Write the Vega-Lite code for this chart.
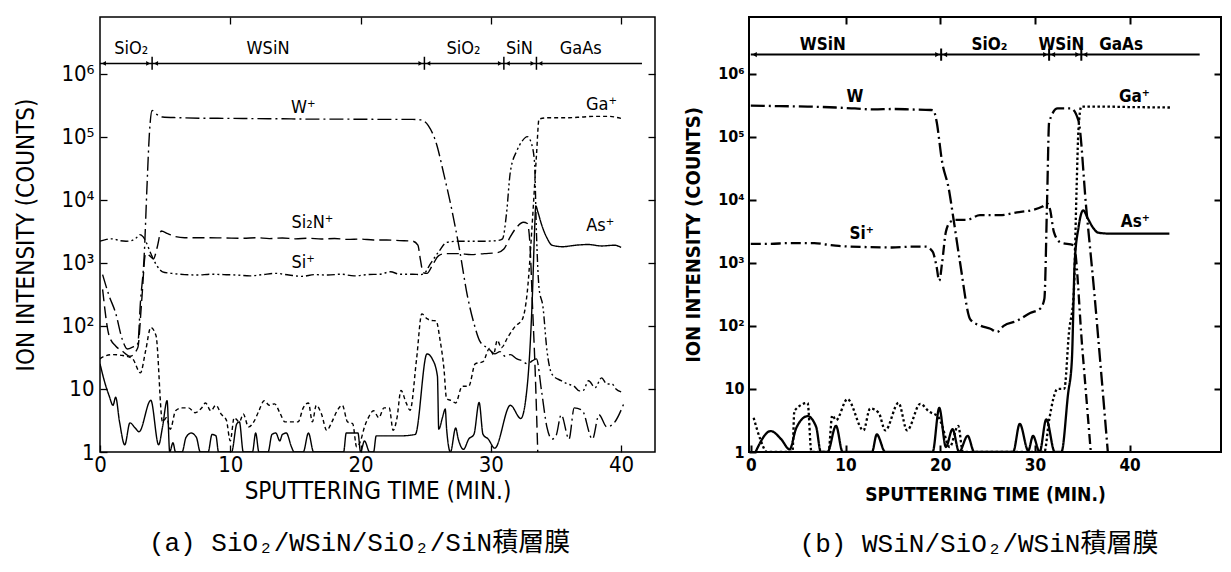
{
  "$schema": "https://vega.github.io/schema/vega-lite/v6.json",
  "background": "white",
  "padding": {"left": 14, "top": 15, "right": 0, "bottom": 8},
  "spacing": 25,
  "config": {
    "view": {"stroke": "black", "strokeWidth": 1.5},
    "font": "Liberation Sans Narrow, DejaVu Sans Condensed, sans-serif",
    "axis": {"grid": false, "domain": false, "tickColor": "black", "labelColor": "black", "titleColor": "black", "tickWidth": 1.3}
  },
  "datasets": {
    "profileA": [
      {"ion": "W", "t": 0.2, "v": 650}, {"ion": "W", "t": 0.7, "v": 300}, {"ion": "W", "t": 1.2, "v": 160}, {"ion": "W", "t": 1.7, "v": 62}, {"ion": "W", "t": 2.1, "v": 43}, {"ion": "W", "t": 2.5, "v": 46}, {"ion": "W", "t": 2.9, "v": 52}, {"ion": "W", "t": 3.1, "v": 230}, {"ion": "W", "t": 3.4, "v": 1400}, {"ion": "W", "t": 3.6, "v": 15000}, {"ion": "W", "t": 3.8, "v": 120000}, {"ion": "W", "t": 4.0, "v": 260000}, {"ion": "W", "t": 4.3, "v": 230000}, {"ion": "W", "t": 4.8, "v": 205000}, {"ion": "W", "t": 6, "v": 200000}, {"ion": "W", "t": 8, "v": 196000}, {"ion": "W", "t": 10, "v": 195000}, {"ion": "W", "t": 12, "v": 193000}, {"ion": "W", "t": 14, "v": 192000}, {"ion": "W", "t": 16, "v": 190000}, {"ion": "W", "t": 18, "v": 190000}, {"ion": "W", "t": 20, "v": 189000}, {"ion": "W", "t": 22, "v": 188000}, {"ion": "W", "t": 24, "v": 188000}, {"ion": "W", "t": 24.6, "v": 185000}, {"ion": "W", "t": 25.2, "v": 150000}, {"ion": "W", "t": 25.8, "v": 80000}, {"ion": "W", "t": 26.4, "v": 25000}, {"ion": "W", "t": 27.0, "v": 7000}, {"ion": "W", "t": 27.6, "v": 1600}, {"ion": "W", "t": 28.2, "v": 300}, {"ion": "W", "t": 28.7, "v": 110}, {"ion": "W", "t": 29.2, "v": 55}, {"ion": "W", "t": 29.8, "v": 44}, {"ion": "W", "t": 30.3, "v": 36}, {"ion": "W", "t": 30.7, "v": 39}, {"ion": "W", "t": 31.1, "v": 33}, {"ion": "W", "t": 31.5, "v": 35}, {"ion": "W", "t": 32.0, "v": 30}, {"ion": "W", "t": 32.4, "v": 28}, {"ion": "W", "t": 32.8, "v": 25}, {"ion": "W", "t": 33.2, "v": 28}, {"ion": "W", "t": 33.5, "v": 30}, {"ion": "W", "t": 33.9, "v": 9}, {"ion": "W", "t": 34.3, "v": 2.5}, {"ion": "W", "t": 34.7, "v": 1.6}, {"ion": "W", "t": 35.0, "v": 1.8}, {"ion": "W", "t": 35.4, "v": 3.9}, {"ion": "W", "t": 36.0, "v": 1.6}, {"ion": "W", "t": 36.4, "v": 5}, {"ion": "W", "t": 37.0, "v": 4.6}, {"ion": "W", "t": 37.8, "v": 1.6}, {"ion": "W", "t": 38.3, "v": 3.9}, {"ion": "W", "t": 38.9, "v": 2.5}, {"ion": "W", "t": 39.4, "v": 2.8}, {"ion": "W", "t": 40.2, "v": 5.8},

      {"ion": "Si2N", "t": 0.2, "v": 380}, {"ion": "Si2N", "t": 0.7, "v": 70}, {"ion": "Si2N", "t": 1.2, "v": 48}, {"ion": "Si2N", "t": 1.7, "v": 40}, {"ion": "Si2N", "t": 2.3, "v": 33}, {"ion": "Si2N", "t": 2.9, "v": 45}, {"ion": "Si2N", "t": 3.2, "v": 250}, {"ion": "Si2N", "t": 3.5, "v": 1400}, {"ion": "Si2N", "t": 3.8, "v": 1300}, {"ion": "Si2N", "t": 4.1, "v": 1150}, {"ion": "Si2N", "t": 4.4, "v": 1800}, {"ion": "Si2N", "t": 4.7, "v": 3200}, {"ion": "Si2N", "t": 5.2, "v": 2900}, {"ion": "Si2N", "t": 5.8, "v": 2600}, {"ion": "Si2N", "t": 6.5, "v": 2500}, {"ion": "Si2N", "t": 8, "v": 2500}, {"ion": "Si2N", "t": 9.5, "v": 2480}, {"ion": "Si2N", "t": 11, "v": 2450}, {"ion": "Si2N", "t": 12, "v": 2500}, {"ion": "Si2N", "t": 13, "v": 2420}, {"ion": "Si2N", "t": 14, "v": 2480}, {"ion": "Si2N", "t": 15, "v": 2400}, {"ion": "Si2N", "t": 16, "v": 2450}, {"ion": "Si2N", "t": 17, "v": 2380}, {"ion": "Si2N", "t": 18, "v": 2430}, {"ion": "Si2N", "t": 19, "v": 2350}, {"ion": "Si2N", "t": 20, "v": 2380}, {"ion": "Si2N", "t": 21, "v": 2300}, {"ion": "Si2N", "t": 22, "v": 2300}, {"ion": "Si2N", "t": 23, "v": 2250}, {"ion": "Si2N", "t": 24, "v": 2200}, {"ion": "Si2N", "t": 24.4, "v": 1900}, {"ion": "Si2N", "t": 24.6, "v": 1100}, {"ion": "Si2N", "t": 24.8, "v": 700}, {"ion": "Si2N", "t": 25.1, "v": 680}, {"ion": "Si2N", "t": 25.5, "v": 900}, {"ion": "Si2N", "t": 26.0, "v": 1300}, {"ion": "Si2N", "t": 26.5, "v": 1400}, {"ion": "Si2N", "t": 27.5, "v": 1400}, {"ion": "Si2N", "t": 28.5, "v": 1350}, {"ion": "Si2N", "t": 29.5, "v": 1400}, {"ion": "Si2N", "t": 30.5, "v": 1450}, {"ion": "Si2N", "t": 31.0, "v": 1650}, {"ion": "Si2N", "t": 31.5, "v": 2600}, {"ion": "Si2N", "t": 32.0, "v": 3700}, {"ion": "Si2N", "t": 32.5, "v": 4400}, {"ion": "Si2N", "t": 32.8, "v": 4200}, {"ion": "Si2N", "t": 33.0, "v": 2000}, {"ion": "Si2N", "t": 33.2, "v": 200}, {"ion": "Si2N", "t": 33.4, "v": 20}, {"ion": "Si2N", "t": 33.6, "v": 1},

      {"ion": "Si", "t": 0, "v": 2200}, {"ion": "Si", "t": 0.5, "v": 2350}, {"ion": "Si", "t": 1.0, "v": 2400}, {"ion": "Si", "t": 1.5, "v": 2250}, {"ion": "Si", "t": 2.0, "v": 2200}, {"ion": "Si", "t": 2.4, "v": 2250}, {"ion": "Si", "t": 2.8, "v": 2500}, {"ion": "Si", "t": 3.05, "v": 2800}, {"ion": "Si", "t": 3.3, "v": 2600}, {"ion": "Si", "t": 3.6, "v": 2000}, {"ion": "Si", "t": 3.9, "v": 1400}, {"ion": "Si", "t": 4.3, "v": 950}, {"ion": "Si", "t": 4.8, "v": 720}, {"ion": "Si", "t": 5.5, "v": 680}, {"ion": "Si", "t": 6.5, "v": 650}, {"ion": "Si", "t": 7.5, "v": 640}, {"ion": "Si", "t": 8.5, "v": 660}, {"ion": "Si", "t": 9.5, "v": 650}, {"ion": "Si", "t": 10.5, "v": 640}, {"ion": "Si", "t": 11.5, "v": 620}, {"ion": "Si", "t": 12.5, "v": 650}, {"ion": "Si", "t": 13.5, "v": 680}, {"ion": "Si", "t": 14.5, "v": 640}, {"ion": "Si", "t": 15.5, "v": 610}, {"ion": "Si", "t": 16.5, "v": 650}, {"ion": "Si", "t": 17.5, "v": 640}, {"ion": "Si", "t": 18.5, "v": 660}, {"ion": "Si", "t": 19.5, "v": 620}, {"ion": "Si", "t": 20.5, "v": 650}, {"ion": "Si", "t": 21.5, "v": 660}, {"ion": "Si", "t": 22.3, "v": 720}, {"ion": "Si", "t": 23, "v": 660}, {"ion": "Si", "t": 24.0, "v": 660}, {"ion": "Si", "t": 24.6, "v": 650}, {"ion": "Si", "t": 24.9, "v": 680}, {"ion": "Si", "t": 25.3, "v": 920}, {"ion": "Si", "t": 26.0, "v": 1500}, {"ion": "Si", "t": 26.6, "v": 2100}, {"ion": "Si", "t": 27.5, "v": 2200}, {"ion": "Si", "t": 28.5, "v": 2200}, {"ion": "Si", "t": 29.5, "v": 2200}, {"ion": "Si", "t": 30.5, "v": 2250}, {"ion": "Si", "t": 30.9, "v": 2400}, {"ion": "Si", "t": 31.2, "v": 6000}, {"ion": "Si", "t": 31.5, "v": 28000}, {"ion": "Si", "t": 32.0, "v": 60000}, {"ion": "Si", "t": 32.4, "v": 85000}, {"ion": "Si", "t": 32.8, "v": 100000}, {"ion": "Si", "t": 33.1, "v": 80000}, {"ion": "Si", "t": 33.35, "v": 40000}, {"ion": "Si", "t": 33.5, "v": 3000}, {"ion": "Si", "t": 33.7, "v": 400}, {"ion": "Si", "t": 34.0, "v": 200}, {"ion": "Si", "t": 34.3, "v": 42}, {"ion": "Si", "t": 34.7, "v": 17}, {"ion": "Si", "t": 35.4, "v": 13.5}, {"ion": "Si", "t": 35.9, "v": 12}, {"ion": "Si", "t": 36.4, "v": 11}, {"ion": "Si", "t": 36.8, "v": 9.3}, {"ion": "Si", "t": 37.1, "v": 9.5}, {"ion": "Si", "t": 37.5, "v": 13.5}, {"ion": "Si", "t": 38.0, "v": 10.5}, {"ion": "Si", "t": 38.5, "v": 15}, {"ion": "Si", "t": 38.9, "v": 12}, {"ion": "Si", "t": 39.3, "v": 12}, {"ion": "Si", "t": 39.6, "v": 10}, {"ion": "Si", "t": 40.0, "v": 9},

      {"ion": "Ga", "t": 0.0, "v": 30}, {"ion": "Ga", "t": 0.2, "v": 32}, {"ion": "Ga", "t": 1.0, "v": 35}, {"ion": "Ga", "t": 1.7, "v": 34}, {"ion": "Ga", "t": 2.5, "v": 30}, {"ion": "Ga", "t": 3.1, "v": 18}, {"ion": "Ga", "t": 3.5, "v": 40}, {"ion": "Ga", "t": 3.9, "v": 94}, {"ion": "Ga", "t": 4.3, "v": 70}, {"ion": "Ga", "t": 4.8, "v": 3}, {"ion": "Ga", "t": 5.1, "v": 3.5}, {"ion": "Ga", "t": 5.4, "v": 2.3}, {"ion": "Ga", "t": 5.8, "v": 4.5}, {"ion": "Ga", "t": 6.3, "v": 5}, {"ion": "Ga", "t": 6.8, "v": 5}, {"ion": "Ga", "t": 7.3, "v": 4.2}, {"ion": "Ga", "t": 7.8, "v": 5}, {"ion": "Ga", "t": 8.1, "v": 6}, {"ion": "Ga", "t": 8.5, "v": 4.5}, {"ion": "Ga", "t": 8.9, "v": 5.5}, {"ion": "Ga", "t": 9.3, "v": 4}, {"ion": "Ga", "t": 9.7, "v": 3.2}, {"ion": "Ga", "t": 10.0, "v": 1.5}, {"ion": "Ga", "t": 10.3, "v": 3.5}, {"ion": "Ga", "t": 10.7, "v": 3}, {"ion": "Ga", "t": 11.0, "v": 4}, {"ion": "Ga", "t": 11.4, "v": 2.5}, {"ion": "Ga", "t": 11.8, "v": 3}, {"ion": "Ga", "t": 12.2, "v": 4.5}, {"ion": "Ga", "t": 12.6, "v": 6.5}, {"ion": "Ga", "t": 13.0, "v": 5.5}, {"ion": "Ga", "t": 13.4, "v": 5.8}, {"ion": "Ga", "t": 13.8, "v": 4.2}, {"ion": "Ga", "t": 14.2, "v": 3}, {"ion": "Ga", "t": 14.8, "v": 3}, {"ion": "Ga", "t": 15.2, "v": 3}, {"ion": "Ga", "t": 15.6, "v": 5}, {"ion": "Ga", "t": 16.0, "v": 6}, {"ion": "Ga", "t": 16.3, "v": 3}, {"ion": "Ga", "t": 16.6, "v": 5.5}, {"ion": "Ga", "t": 17.0, "v": 4}, {"ion": "Ga", "t": 17.4, "v": 2.2}, {"ion": "Ga", "t": 17.8, "v": 3}, {"ion": "Ga", "t": 18.2, "v": 4.5}, {"ion": "Ga", "t": 18.6, "v": 5.5}, {"ion": "Ga", "t": 19.0, "v": 3}, {"ion": "Ga", "t": 19.4, "v": 2.8}, {"ion": "Ga", "t": 19.7, "v": 1.2}, {"ion": "Ga", "t": 20.0, "v": 1.5}, {"ion": "Ga", "t": 20.3, "v": 2.5}, {"ion": "Ga", "t": 20.6, "v": 3.5}, {"ion": "Ga", "t": 21.0, "v": 4.5}, {"ion": "Ga", "t": 21.4, "v": 3.5}, {"ion": "Ga", "t": 21.8, "v": 5}, {"ion": "Ga", "t": 22.2, "v": 5}, {"ion": "Ga", "t": 22.5, "v": 2.2}, {"ion": "Ga", "t": 22.8, "v": 3.5}, {"ion": "Ga", "t": 23.1, "v": 9.5}, {"ion": "Ga", "t": 23.5, "v": 6}, {"ion": "Ga", "t": 23.8, "v": 4.6}, {"ion": "Ga", "t": 24.3, "v": 30}, {"ion": "Ga", "t": 24.7, "v": 155}, {"ion": "Ga", "t": 25.1, "v": 130}, {"ion": "Ga", "t": 25.4, "v": 122}, {"ion": "Ga", "t": 25.8, "v": 120}, {"ion": "Ga", "t": 26.1, "v": 60}, {"ion": "Ga", "t": 26.4, "v": 21}, {"ion": "Ga", "t": 26.6, "v": 7}, {"ion": "Ga", "t": 27.0, "v": 6.5}, {"ion": "Ga", "t": 27.3, "v": 6}, {"ion": "Ga", "t": 27.8, "v": 11}, {"ion": "Ga", "t": 28.3, "v": 11}, {"ion": "Ga", "t": 28.8, "v": 25}, {"ion": "Ga", "t": 29.4, "v": 27}, {"ion": "Ga", "t": 29.9, "v": 44}, {"ion": "Ga", "t": 30.2, "v": 35}, {"ion": "Ga", "t": 30.5, "v": 59}, {"ion": "Ga", "t": 30.8, "v": 45}, {"ion": "Ga", "t": 31.3, "v": 66}, {"ion": "Ga", "t": 31.9, "v": 100}, {"ion": "Ga", "t": 32.4, "v": 125}, {"ion": "Ga", "t": 32.8, "v": 350}, {"ion": "Ga", "t": 33.2, "v": 5000}, {"ion": "Ga", "t": 33.5, "v": 50000}, {"ion": "Ga", "t": 33.7, "v": 190000}, {"ion": "Ga", "t": 34.5, "v": 200000}, {"ion": "Ga", "t": 36, "v": 200000}, {"ion": "Ga", "t": 37, "v": 205000}, {"ion": "Ga", "t": 38, "v": 210000}, {"ion": "Ga", "t": 39, "v": 210000}, {"ion": "Ga", "t": 40, "v": 195000},

      {"ion": "As", "t": 0, "v": 25}, {"ion": "As", "t": 0.4, "v": 12}, {"ion": "As", "t": 0.7, "v": 7.8}, {"ion": "As", "t": 1.0, "v": 5.5}, {"ion": "As", "t": 1.2, "v": 7.4}, {"ion": "As", "t": 1.5, "v": 3}, {"ion": "As", "t": 1.9, "v": 1.3}, {"ion": "As", "t": 2.3, "v": 2.9}, {"ion": "As", "t": 2.7, "v": 2.4}, {"ion": "As", "t": 3.0, "v": 2.1}, {"ion": "As", "t": 3.9, "v": 6.6}, {"ion": "As", "t": 4.5, "v": 1.3}, {"ion": "As", "t": 4.8, "v": 2.5}, {"ion": "As", "t": 5.15, "v": 6.5}, {"ion": "As", "t": 5.35, "v": 1.0}, {"ion": "As", "t": 5.6, "v": 1.4}, {"ion": "As", "t": 5.8, "v": 1}, {"ion": "As", "t": 6.3, "v": 1}, {"ion": "As", "t": 6.6, "v": 1.7}, {"ion": "As", "t": 7.0, "v": 2}, {"ion": "As", "t": 7.4, "v": 1.7}, {"ion": "As", "t": 7.7, "v": 1}, {"ion": "As", "t": 8.3, "v": 1}, {"ion": "As", "t": 8.6, "v": 1.9}, {"ion": "As", "t": 8.9, "v": 1.8}, {"ion": "As", "t": 9.1, "v": 1}, {"ion": "As", "t": 10.1, "v": 1}, {"ion": "As", "t": 10.5, "v": 2.8}, {"ion": "As", "t": 10.7, "v": 3}, {"ion": "As", "t": 11.0, "v": 1}, {"ion": "As", "t": 11.7, "v": 1}, {"ion": "As", "t": 11.95, "v": 2}, {"ion": "As", "t": 12.2, "v": 1}, {"ion": "As", "t": 12.9, "v": 1}, {"ion": "As", "t": 13.2, "v": 1.9}, {"ion": "As", "t": 13.5, "v": 2}, {"ion": "As", "t": 13.8, "v": 1.5}, {"ion": "As", "t": 14.0, "v": 1.9}, {"ion": "As", "t": 14.3, "v": 2}, {"ion": "As", "t": 14.7, "v": 1.2}, {"ion": "As", "t": 14.9, "v": 1}, {"ion": "As", "t": 15.6, "v": 1}, {"ion": "As", "t": 16.0, "v": 2}, {"ion": "As", "t": 16.4, "v": 1}, {"ion": "As", "t": 18.7, "v": 1}, {"ion": "As", "t": 18.9, "v": 2}, {"ion": "As", "t": 19.8, "v": 2}, {"ion": "As", "t": 20.0, "v": 1}, {"ion": "As", "t": 20.3, "v": 1.5}, {"ion": "As", "t": 20.7, "v": 1}, {"ion": "As", "t": 21.0, "v": 1}, {"ion": "As", "t": 21.2, "v": 1.8}, {"ion": "As", "t": 22, "v": 1.8}, {"ion": "As", "t": 23, "v": 1.8}, {"ion": "As", "t": 24.2, "v": 1.9}, {"ion": "As", "t": 25.1, "v": 36}, {"ion": "As", "t": 25.5, "v": 30}, {"ion": "As", "t": 25.9, "v": 16}, {"ion": "As", "t": 26.0, "v": 2.3}, {"ion": "As", "t": 26.3, "v": 3.6}, {"ion": "As", "t": 26.5, "v": 4.8}, {"ion": "As", "t": 26.6, "v": 2.4}, {"ion": "As", "t": 26.9, "v": 1}, {"ion": "As", "t": 27.3, "v": 2.4}, {"ion": "As", "t": 27.5, "v": 1.6}, {"ion": "As", "t": 27.9, "v": 1.1}, {"ion": "As", "t": 28.3, "v": 1.6}, {"ion": "As", "t": 28.7, "v": 1.9}, {"ion": "As", "t": 29.1, "v": 6.1}, {"ion": "As", "t": 29.4, "v": 1.9}, {"ion": "As", "t": 29.8, "v": 1.6}, {"ion": "As", "t": 30.3, "v": 1.15}, {"ion": "As", "t": 31.5, "v": 5.5}, {"ion": "As", "t": 32.3, "v": 3.4}, {"ion": "As", "t": 32.8, "v": 11.5}, {"ion": "As", "t": 33.2, "v": 350}, {"ion": "As", "t": 33.35, "v": 3000}, {"ion": "As", "t": 33.45, "v": 8000}, {"ion": "As", "t": 33.6, "v": 6500}, {"ion": "As", "t": 33.9, "v": 4000}, {"ion": "As", "t": 34.3, "v": 2500}, {"ion": "As", "t": 34.7, "v": 1900}, {"ion": "As", "t": 35.5, "v": 1800}, {"ion": "As", "t": 36.5, "v": 1900}, {"ion": "As", "t": 37.5, "v": 1950}, {"ion": "As", "t": 38.5, "v": 1850}, {"ion": "As", "t": 39.5, "v": 1900}, {"ion": "As", "t": 40.0, "v": 1750}
    ],
    "profileB": [
      {"ion": "W", "t": 0, "v": 310000}, {"ion": "W", "t": 3, "v": 305000}, {"ion": "W", "t": 6, "v": 300000}, {"ion": "W", "t": 9, "v": 290000}, {"ion": "W", "t": 11, "v": 280000}, {"ion": "W", "t": 13, "v": 270000}, {"ion": "W", "t": 15, "v": 275000}, {"ion": "W", "t": 17, "v": 270000}, {"ion": "W", "t": 19, "v": 265000}, {"ion": "W", "t": 19.3, "v": 260000}, {"ion": "W", "t": 19.6, "v": 180000}, {"ion": "W", "t": 20.2, "v": 40000}, {"ion": "W", "t": 20.9, "v": 15000}, {"ion": "W", "t": 21.4, "v": 5000}, {"ion": "W", "t": 22.1, "v": 1000}, {"ion": "W", "t": 23.2, "v": 125}, {"ion": "W", "t": 24.3, "v": 100}, {"ion": "W", "t": 25.3, "v": 90}, {"ion": "W", "t": 26.0, "v": 80}, {"ion": "W", "t": 26.7, "v": 100}, {"ion": "W", "t": 28.1, "v": 120}, {"ion": "W", "t": 29.5, "v": 160}, {"ion": "W", "t": 30.6, "v": 190}, {"ion": "W", "t": 31.0, "v": 270}, {"ion": "W", "t": 31.3, "v": 12000}, {"ion": "W", "t": 31.5, "v": 170000}, {"ion": "W", "t": 32.4, "v": 280000}, {"ion": "W", "t": 33.8, "v": 280000}, {"ion": "W", "t": 34.6, "v": 180000}, {"ion": "W", "t": 35.4, "v": 8000}, {"ion": "W", "t": 36.3, "v": 300}, {"ion": "W", "t": 36.9, "v": 27}, {"ion": "W", "t": 37.7, "v": 1},

      {"ion": "Si", "t": 0, "v": 2000}, {"ion": "Si", "t": 2, "v": 2000}, {"ion": "Si", "t": 4, "v": 2050}, {"ion": "Si", "t": 6.7, "v": 2050}, {"ion": "Si", "t": 8, "v": 1950}, {"ion": "Si", "t": 9.3, "v": 1850}, {"ion": "Si", "t": 12, "v": 1780}, {"ion": "Si", "t": 14.9, "v": 1750}, {"ion": "Si", "t": 17, "v": 1800}, {"ion": "Si", "t": 18.5, "v": 1800}, {"ion": "Si", "t": 19.2, "v": 1500}, {"ion": "Si", "t": 19.6, "v": 900}, {"ion": "Si", "t": 19.9, "v": 520}, {"ion": "Si", "t": 20.2, "v": 1000}, {"ion": "Si", "t": 20.6, "v": 3100}, {"ion": "Si", "t": 21.1, "v": 4500}, {"ion": "Si", "t": 21.6, "v": 4800}, {"ion": "Si", "t": 22.8, "v": 4800}, {"ion": "Si", "t": 24.2, "v": 5700}, {"ion": "Si", "t": 26.3, "v": 5700}, {"ion": "Si", "t": 28.1, "v": 6300}, {"ion": "Si", "t": 29.8, "v": 6900}, {"ion": "Si", "t": 30.8, "v": 7800}, {"ion": "Si", "t": 31.3, "v": 8700}, {"ion": "Si", "t": 31.6, "v": 7000}, {"ion": "Si", "t": 32.0, "v": 3100}, {"ion": "Si", "t": 32.7, "v": 2100}, {"ion": "Si", "t": 34.1, "v": 1900}, {"ion": "Si", "t": 35.0, "v": 45}, {"ion": "Si", "t": 35.9, "v": 1},

      {"ion": "Ga", "t": 0.3, "v": 3.5}, {"ion": "Ga", "t": 1.0, "v": 1.6}, {"ion": "Ga", "t": 1.7, "v": 1}, {"ion": "Ga", "t": 4.4, "v": 1}, {"ion": "Ga", "t": 4.6, "v": 4.5}, {"ion": "Ga", "t": 6.0, "v": 6}, {"ion": "Ga", "t": 6.4, "v": 1}, {"ion": "Ga", "t": 8.2, "v": 1}, {"ion": "Ga", "t": 8.6, "v": 3.8}, {"ion": "Ga", "t": 9.0, "v": 3.2}, {"ion": "Ga", "t": 10.2, "v": 6.9}, {"ion": "Ga", "t": 11.9, "v": 2.2}, {"ion": "Ga", "t": 12.6, "v": 4.9}, {"ion": "Ga", "t": 13.5, "v": 4.2}, {"ion": "Ga", "t": 14.2, "v": 2.2}, {"ion": "Ga", "t": 15.6, "v": 6}, {"ion": "Ga", "t": 16.5, "v": 2.2}, {"ion": "Ga", "t": 17.9, "v": 5.8}, {"ion": "Ga", "t": 18.8, "v": 4.4}, {"ion": "Ga", "t": 19.8, "v": 3.6}, {"ion": "Ga", "t": 20.1, "v": 2.9}, {"ion": "Ga", "t": 21.0, "v": 1.2}, {"ion": "Ga", "t": 21.9, "v": 2.6}, {"ion": "Ga", "t": 22.4, "v": 1}, {"ion": "Ga", "t": 31.0, "v": 1}, {"ion": "Ga", "t": 31.5, "v": 3.2}, {"ion": "Ga", "t": 32.4, "v": 10}, {"ion": "Ga", "t": 33.1, "v": 10}, {"ion": "Ga", "t": 33.6, "v": 80}, {"ion": "Ga", "t": 34.1, "v": 320}, {"ion": "Ga", "t": 34.4, "v": 15000}, {"ion": "Ga", "t": 34.6, "v": 130000}, {"ion": "Ga", "t": 34.9, "v": 300000}, {"ion": "Ga", "t": 37, "v": 300000}, {"ion": "Ga", "t": 40, "v": 295000}, {"ion": "Ga", "t": 44.4, "v": 290000},

      {"ion": "As", "t": 0.5, "v": 1}, {"ion": "As", "t": 2.1, "v": 2.15}, {"ion": "As", "t": 3.2, "v": 1.6}, {"ion": "As", "t": 4.1, "v": 1.1}, {"ion": "As", "t": 4.8, "v": 2.4}, {"ion": "As", "t": 6.0, "v": 3.7}, {"ion": "As", "t": 6.9, "v": 2.5}, {"ion": "As", "t": 7.4, "v": 1}, {"ion": "As", "t": 8.1, "v": 1}, {"ion": "As", "t": 9.0, "v": 2.6}, {"ion": "As", "t": 9.7, "v": 1}, {"ion": "As", "t": 12.8, "v": 1}, {"ion": "As", "t": 13.3, "v": 1.9}, {"ion": "As", "t": 14.2, "v": 1}, {"ion": "As", "t": 19.2, "v": 1}, {"ion": "As", "t": 19.9, "v": 5}, {"ion": "As", "t": 20.6, "v": 1.2}, {"ion": "As", "t": 21.3, "v": 2.3}, {"ion": "As", "t": 22.0, "v": 1}, {"ion": "As", "t": 22.9, "v": 1.8}, {"ion": "As", "t": 23.6, "v": 1}, {"ion": "As", "t": 27.7, "v": 1}, {"ion": "As", "t": 28.4, "v": 2.8}, {"ion": "As", "t": 29.3, "v": 1.05}, {"ion": "As", "t": 29.8, "v": 1.8}, {"ion": "As", "t": 30.5, "v": 1}, {"ion": "As", "t": 31.2, "v": 3.3}, {"ion": "As", "t": 32.1, "v": 1}, {"ion": "As", "t": 32.8, "v": 1}, {"ion": "As", "t": 33.5, "v": 8.3}, {"ion": "As", "t": 33.9, "v": 28}, {"ion": "As", "t": 34.2, "v": 1000}, {"ion": "As", "t": 34.6, "v": 3600}, {"ion": "As", "t": 35.1, "v": 6800}, {"ion": "As", "t": 35.6, "v": 5000}, {"ion": "As", "t": 36.2, "v": 3500}, {"ion": "As", "t": 36.7, "v": 3000}, {"ion": "As", "t": 38, "v": 2900}, {"ion": "As", "t": 40, "v": 2900}, {"ion": "As", "t": 44.2, "v": 2900}
    ],
    "labelsA": [
      {"t": 15.6, "v": 280000, "text": "W⁺"}, {"t": 16.3, "v": 4200, "text": "Si₂N⁺"}, {"t": 15.6, "v": 1000, "text": "Si⁺"}, {"t": 38.5, "v": 320000, "text": "Ga⁺"}, {"t": 38.4, "v": 3800, "text": "As⁺"},
      {"t": 2.4, "v": 2500000, "text": "SiO₂"}, {"t": 12.9, "v": 2500000, "text": "WSiN"}, {"t": 27.9, "v": 2500000, "text": "SiO₂"}, {"t": 32.2, "v": 2500000, "text": "SiN"}, {"t": 36.9, "v": 2500000, "text": "GaAs"}
    ],
    "labelsB": [
      {"t": 11.0, "v": 430000, "text": "W"}, {"t": 40.5, "v": 430000, "text": "Ga⁺"}, {"t": 11.7, "v": 2900, "text": "Si⁺"}, {"t": 40.6, "v": 4500, "text": "As⁺"},
      {"t": 7.6, "v": 2800000, "text": "WSiN"}, {"t": 25.2, "v": 2800000, "text": "SiO₂"}, {"t": 32.8, "v": 2800000, "text": "WSiN"}, {"t": 39.1, "v": 2800000, "text": "GaAs"}
    ],
    "barA": [{"t": 0, "t2": 41.6, "v": 1450000}],
    "barB": [{"t": 0, "t2": 47.4, "v": 2000000}],
    "edgesA": [
      {"t": 4.0, "lo": 1150000, "hi": 1850000}, {"t": 24.9, "lo": 1150000, "hi": 1850000}, {"t": 31.0, "lo": 1150000, "hi": 1850000}, {"t": 33.5, "lo": 1150000, "hi": 1850000}
    ],
    "edgesB": [
      {"t": 20.1, "lo": 1600000, "hi": 2500000}, {"t": 31.5, "lo": 1600000, "hi": 2500000}, {"t": 34.9, "lo": 1600000, "hi": 2500000}
    ],
    "arrowsA": [
      {"t": 0.3, "v": 1450000, "dir": "left"},
      {"t": 3.7, "v": 1450000, "dir": "right"}, {"t": 4.3, "v": 1450000, "dir": "left"},
      {"t": 24.6, "v": 1450000, "dir": "right"}, {"t": 25.2, "v": 1450000, "dir": "left"},
      {"t": 30.7, "v": 1450000, "dir": "right"}, {"t": 31.3, "v": 1450000, "dir": "left"},
      {"t": 33.2, "v": 1450000, "dir": "right"}, {"t": 33.8, "v": 1450000, "dir": "left"}
    ],
    "arrowsB": [
      {"t": 0.4, "v": 2000000, "dir": "left"},
      {"t": 19.7, "v": 2000000, "dir": "right"}, {"t": 20.5, "v": 2000000, "dir": "left"},
      {"t": 31.1, "v": 2000000, "dir": "right"}, {"t": 31.9, "v": 2000000, "dir": "left"},
      {"t": 34.5, "v": 2000000, "dir": "right"}, {"t": 35.3, "v": 2000000, "dir": "left"}
    ],
    "frame": [{"t": 5, "v": 10}]
  },
  "resolve": {"scale": {"strokeDash": "independent", "shape": "independent"}},
  "hconcat": [
    {
      "width": 555,
      "height": 435,
      "title": {"text": "(a) SiO₂/WSiN/SiO₂/SiN積層膜", "orient": "bottom", "anchor": "middle", "font": "Liberation Mono, Noto Sans CJK JP", "fontSize": 26, "fontWeight": "normal", "color": "black", "offset": 27, "dx": -18},
      "resolve": {"axis": {"x": "independent", "y": "independent"}},
      "layer": [
        {
          "data": {"name": "profileA"},
          "mark": {"type": "line", "interpolate": "monotone", "strokeWidth": 1.4, "color": "black", "clip": true},
          "encoding": {
            "x": {"field": "t", "type": "quantitative", "scale": {"domain": [0, 42.6], "nice": false, "zero": false},
              "axis": {"orient": "bottom", "values": [0, 10, 20, 30, 40], "title": "SPUTTERING TIME (MIN.)", "titleFontSize": 24, "titleFontWeight": "normal", "titlePadding": 4, "labelFontSize": 22, "labelPadding": 9, "tickSize": -7, "labelFlush": false}},
            "y": {"field": "v", "type": "quantitative", "scale": {"type": "log", "domain": [1, 7900000], "nice": false},
              "axis": {"orient": "left", "values": [1, 10, 100, 1000, 10000, 100000, 1000000], "labelExpr": "datum.value == 1 ? '1' : datum.value == 10 ? '10' : datum.value == 100 ? '10²' : datum.value == 1000 ? '10³' : datum.value == 10000 ? '10⁴' : datum.value == 100000 ? '10⁵' : '10⁶'", "title": "ION INTENSITY (COUNTS)", "titleFontSize": 24, "titleFontWeight": "normal", "titlePadding": 22, "labelFontSize": 22, "labelPadding": 13, "tickSize": -7, "labelFlush": false}},
            "detail": {"field": "ion", "type": "nominal"},
            "strokeDash": {"field": "ion", "type": "nominal", "legend": null,
              "scale": {"domain": ["W", "Si2N", "Si", "Ga", "As"], "range": [[14, 4, 2, 4], [12, 5], [8, 3, 2, 3, 2, 3], [4, 3], [1, 0]]}}
          }
        },
        {
          "data": {"name": "barA"},
          "mark": {"type": "rule", "strokeWidth": 1.5, "color": "black"},
          "encoding": {
            "x": {"field": "t", "type": "quantitative", "scale": {"domain": [0, 42.6], "nice": false, "zero": false}, "axis": null},
            "x2": {"field": "t2"},
            "y": {"field": "v", "type": "quantitative", "scale": {"type": "log", "domain": [1, 7900000], "nice": false}, "axis": null}
          }
        },
        {
          "data": {"name": "edgesA"},
          "mark": {"type": "rule", "strokeWidth": 1.5, "color": "black"},
          "encoding": {
            "x": {"field": "t", "type": "quantitative", "scale": {"domain": [0, 42.6], "nice": false, "zero": false}, "axis": null},
            "y": {"field": "lo", "type": "quantitative", "scale": {"type": "log", "domain": [1, 7900000], "nice": false}, "axis": null},
            "y2": {"field": "hi"}
          }
        },
        {
          "data": {"name": "arrowsA"},
          "mark": {"type": "point", "filled": true, "color": "black", "size": 22, "opacity": 1},
          "encoding": {
            "x": {"field": "t", "type": "quantitative", "scale": {"domain": [0, 42.6], "nice": false, "zero": false}, "axis": null},
            "y": {"field": "v", "type": "quantitative", "scale": {"type": "log", "domain": [1, 7900000], "nice": false}, "axis": null},
            "shape": {"field": "dir", "type": "nominal", "legend": null, "scale": {"domain": ["left", "right"], "range": ["triangle-left", "triangle-right"]}}
          }
        },
        {
          "data": {"name": "labelsA"},
          "mark": {"type": "text", "fontSize": 18, "color": "black", "align": "center", "baseline": "middle", "font": "Liberation Sans Narrow, DejaVu Sans Condensed, sans-serif"},
          "encoding": {
            "x": {"field": "t", "type": "quantitative", "scale": {"domain": [0, 42.6], "nice": false, "zero": false}, "axis": null},
            "y": {"field": "v", "type": "quantitative", "scale": {"type": "log", "domain": [1, 7900000], "nice": false}, "axis": null},
            "text": {"field": "text"}
          }
        },
        {
          "data": {"name": "frame"},
          "mark": {"type": "point", "opacity": 0},
          "encoding": {
            "x": {"field": "t", "type": "quantitative", "scale": {"domain": [0, 42.6], "nice": false, "zero": false},
              "axis": {"orient": "top", "values": [10, 20, 30, 40], "labels": false, "title": null, "tickSize": -7}},
            "y": {"field": "v", "type": "quantitative", "scale": {"type": "log", "domain": [1, 7900000], "nice": false},
              "axis": {"orient": "right", "values": [10, 100, 1000, 10000, 100000, 1000000], "labels": false, "title": null, "tickSize": -7}}
          }
        }
      ]
    },
    {
      "width": 472,
      "height": 435,
      "view": {"stroke": "black", "strokeWidth": 2},
      "title": {"text": "(b) WSiN/SiO₂/WSiN積層膜", "orient": "bottom", "anchor": "middle", "font": "Liberation Mono, Noto Sans CJK JP", "fontSize": 26, "fontWeight": "normal", "color": "black", "offset": 27, "dx": -6},
      "resolve": {"axis": {"x": "independent", "y": "independent"}},
      "layer": [
        {
          "data": {"name": "profileB"},
          "mark": {"type": "line", "interpolate": "monotone", "strokeWidth": 2.3, "color": "black", "clip": true},
          "encoding": {
            "x": {"field": "t", "type": "quantitative", "scale": {"domain": [-0.19, 49.65], "nice": false, "zero": false},
              "axis": {"orient": "bottom", "values": [0, 10, 20, 30, 40], "title": "SPUTTERING TIME (MIN.)", "titleFontSize": 19, "titleFontWeight": "bold", "titlePadding": 12, "labelFontSize": 17, "labelFontWeight": "bold", "labelPadding": 12, "tickSize": -7, "tickWidth": 2, "labelFlush": false}},
            "y": {"field": "v", "type": "quantitative", "scale": {"type": "log", "domain": [1, 7900000], "nice": false},
              "axis": {"orient": "left", "values": [1, 10, 100, 1000, 10000, 100000, 1000000], "labelExpr": "datum.value == 1 ? '1' : datum.value == 10 ? '10' : datum.value == 100 ? '10²' : datum.value == 1000 ? '10³' : datum.value == 10000 ? '10⁴' : datum.value == 100000 ? '10⁵' : '10⁶'", "title": "ION INTENSITY (COUNTS)", "titleFontSize": 20, "titleFontWeight": "bold", "titlePadding": 14, "labelFontSize": 16, "labelFontWeight": "bold", "labelPadding": 12, "tickSize": -7, "tickWidth": 2, "labelFlush": false}},
            "detail": {"field": "ion", "type": "nominal"},
            "strokeDash": {"field": "ion", "type": "nominal", "legend": null,
              "scale": {"domain": ["W", "Si", "Ga", "As"], "range": [[14, 4, 2, 4], [10, 4, 2, 4], [2.5, 2.5], [1, 0]]}}
          }
        },
        {
          "data": {"name": "barB"},
          "mark": {"type": "rule", "strokeWidth": 2, "color": "black"},
          "encoding": {
            "x": {"field": "t", "type": "quantitative", "scale": {"domain": [-0.19, 49.65], "nice": false, "zero": false}, "axis": null},
            "x2": {"field": "t2"},
            "y": {"field": "v", "type": "quantitative", "scale": {"type": "log", "domain": [1, 7900000], "nice": false}, "axis": null}
          }
        },
        {
          "data": {"name": "edgesB"},
          "mark": {"type": "rule", "strokeWidth": 2, "color": "black"},
          "encoding": {
            "x": {"field": "t", "type": "quantitative", "scale": {"domain": [-0.19, 49.65], "nice": false, "zero": false}, "axis": null},
            "y": {"field": "lo", "type": "quantitative", "scale": {"type": "log", "domain": [1, 7900000], "nice": false}, "axis": null},
            "y2": {"field": "hi"}
          }
        },
        {
          "data": {"name": "arrowsB"},
          "mark": {"type": "point", "filled": true, "color": "black", "size": 26, "opacity": 1},
          "encoding": {
            "x": {"field": "t", "type": "quantitative", "scale": {"domain": [-0.19, 49.65], "nice": false, "zero": false}, "axis": null},
            "y": {"field": "v", "type": "quantitative", "scale": {"type": "log", "domain": [1, 7900000], "nice": false}, "axis": null},
            "shape": {"field": "dir", "type": "nominal", "legend": null, "scale": {"domain": ["left", "right"], "range": ["triangle-left", "triangle-right"]}}
          }
        },
        {
          "data": {"name": "labelsB"},
          "mark": {"type": "text", "fontSize": 17, "fontWeight": "bold", "color": "black", "align": "center", "baseline": "middle", "font": "Liberation Sans Narrow, DejaVu Sans Condensed, sans-serif"},
          "encoding": {
            "x": {"field": "t", "type": "quantitative", "scale": {"domain": [-0.19, 49.65], "nice": false, "zero": false}, "axis": null},
            "y": {"field": "v", "type": "quantitative", "scale": {"type": "log", "domain": [1, 7900000], "nice": false}, "axis": null},
            "text": {"field": "text"}
          }
        },
        {
          "data": {"name": "frame"},
          "mark": {"type": "point", "opacity": 0},
          "encoding": {
            "x": {"field": "t", "type": "quantitative", "scale": {"domain": [-0.19, 49.65], "nice": false, "zero": false},
              "axis": {"orient": "top", "values": [10, 20, 30, 40], "labels": false, "title": null, "tickSize": -7, "tickWidth": 2}},
            "y": {"field": "v", "type": "quantitative", "scale": {"type": "log", "domain": [1, 7900000], "nice": false},
              "axis": {"orient": "right", "values": [10, 100, 1000, 10000, 100000, 1000000], "labels": false, "title": null, "tickSize": -7, "tickWidth": 2}}
          }
        }
      ]
    }
  ]
}
